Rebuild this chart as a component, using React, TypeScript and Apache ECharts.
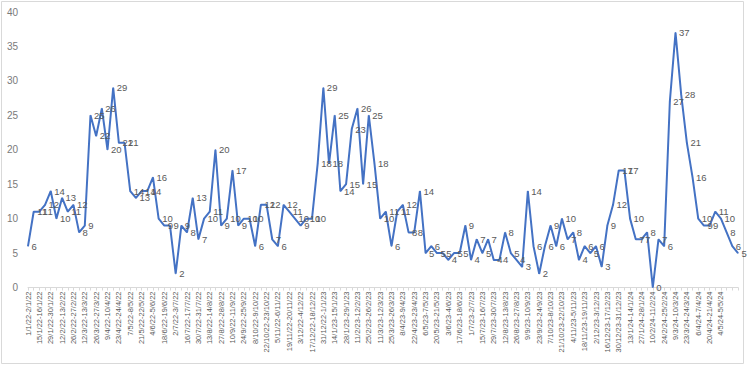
import React, { useEffect, useRef } from "react";
import * as echarts from "echarts";

const weekends: string[] = [
  "1/1/22-2/1/22","8/1/22-9/1/22","15/1/22-16/1/22","22/1/22-23/1/22","29/1/22-30/1/22",
  "5/2/22-6/2/22","12/2/22-13/2/22","19/2/22-20/2/22","26/2/22-27/2/22",
  "5/3/22-6/3/22","12/3/22-13/3/22","19/3/22-20/3/22","26/3/22-27/3/22",
  "2/4/22-3/4/22","9/4/22-10/4/22","16/4/22-17/4/22","23/4/22-24/4/22","30/4/22-1/5/22",
  "7/5/22-8/5/22","14/5/22-15/5/22","21/5/22-22/5/22","28/5/22-29/5/22",
  "4/6/22-5/6/22","11/6/22-12/6/22","18/6/22-19/6/22","25/6/22-26/6/22",
  "2/7/22-3/7/22","9/7/22-10/7/22","16/7/22-17/7/22","23/7/22-24/7/22","30/7/22-31/7/22",
  "6/8/22-7/8/22","13/8/22-14/8/22","20/8/22-21/8/22","27/8/22-28/8/22",
  "3/9/22-4/9/22","10/9/22-11/9/22","17/9/22-18/9/22","24/9/22-25/9/22",
  "1/10/22-2/10/22","8/10/22-9/10/22","15/10/22-16/10/22","22/10/22-23/10/22","29/10/22-30/10/22",
  "5/11/22-6/11/22","12/11/22-13/11/22","19/11/22-20/11/22","26/11/22-27/11/22",
  "3/12/22-4/12/22","10/12/22-11/12/22","17/12/22-18/12/22","24/12/22-25/12/22","31/12/22-1/1/23",
  "7/1/23-8/1/23","14/1/23-15/1/23","21/1/23-22/1/23","28/1/23-29/1/23",
  "4/2/23-5/2/23","11/2/23-12/2/23","18/2/23-19/2/23","25/2/23-26/2/23",
  "4/3/23-5/3/23","11/3/23-12/3/23","18/3/23-19/3/23","25/3/23-26/3/23",
  "1/4/23-2/4/23","8/4/23-9/4/23","15/4/23-16/4/23","22/4/23-23/4/23","29/4/23-30/4/23",
  "6/5/23-7/5/23","13/5/23-14/5/23","20/5/23-21/5/23","27/5/23-28/5/23",
  "3/6/23-4/6/23","10/6/23-11/6/23","17/6/23-18/6/23","24/6/23-25/6/23",
  "1/7/23-2/7/23","8/7/23-9/7/23","15/7/23-16/7/23","22/7/23-23/7/23","29/7/23-30/7/23",
  "5/8/23-6/8/23","12/8/23-13/8/23","19/8/23-20/8/23","26/8/23-27/8/23",
  "2/9/23-3/9/23","9/9/23-10/9/23","16/9/23-17/9/23","23/9/23-24/9/23","30/9/23-1/10/23",
  "7/10/23-8/10/23","14/10/23-15/10/23","21/10/23-22/10/23","28/10/23-29/10/23",
  "4/11/23-5/11/23","11/11/23-12/11/23","18/11/23-19/11/23","25/11/23-26/11/23",
  "2/12/23-3/12/23","9/12/23-10/12/23","16/12/23-17/12/23","23/12/23-24/12/23","30/12/23-31/12/23",
  "6/1/24-7/1/24","13/1/24-14/1/24","20/1/24-21/1/24","27/1/24-28/1/24",
  "3/2/24-4/2/24","10/2/24-11/2/24","17/2/24-18/2/24","24/2/24-25/2/24",
  "2/3/24-3/3/24","9/3/24-10/3/24","16/3/24-17/3/24","23/3/24-24/3/24","30/3/24-31/3/24",
  "6/4/24-7/4/24","13/4/24-14/4/24","20/4/24-21/4/24","27/4/24-28/4/24",
  "4/5/24-5/5/24",
];
const unlabeledTail: string[] = ["", "", ""];
const categories: string[] = [...weekends, ...unlabeledTail];

const counts: number[] = [
  6, 11, 11, 12, 14, 10, 13, 11, 12, 8,
  9, 25, 22, 26, 20, 29, 21, 21, 14, 13,
  14, 14, 16, 10, 9, 9, 2, 9, 8, 13,
  7, 10, 11, 20, 9, 10, 17, 9, 10, 10,
  6, 12, 12, 7, 6, 12, 11, 10, 9, 10,
  10, 18, 29, 18, 25, 14, 15, 23, 26, 15,
  25, 18, 10, 11, 6, 11, 12, 8, 8, 14,
  5, 6, 5, 5, 4, 5, 5, 9, 4, 7,
  5, 7, 4, 4, 8, 5, 4, 3, 14, 6,
  2, 6, 9, 6, 10, 7, 8, 4, 6, 5,
  6, 3, 9, 12, 17, 17, 10, 7, 7, 8,
  0, 7, 6, 27, 37, 28, 21, 16, 10, 9,
  9, 11, 10, 8, 6, 5,
];

const yTicks = { min: 0, max: 40, step: 5 };

export default function App() {
  const ref = useRef<HTMLDivElement>(null);
  useEffect(() => {
    if (!ref.current) return;
    const chart = echarts.init(ref.current, null, { renderer: "svg" });
    chart.setOption({
      animation: false,
      backgroundColor: "#ffffff",
      textStyle: { fontFamily: "Liberation Sans" },
      graphic: [
        {
          type: "rect",
          silent: true,
          shape: { x: 1.5, y: 1.5, width: 742, height: 362 },
          style: { fill: "none", stroke: "#d9d9d9", lineWidth: 1 },
        },
      ],
      grid: { left: 28, right: 12, top: 12, bottom: 79.5 },
      xAxis: {
        type: "category",
        data: categories,
        boundaryGap: false,
        axisLine: { show: true, lineStyle: { color: "#d9d9d9" } },
        axisTick: { show: true, interval: 0, length: 3, lineStyle: { color: "#d9d9d9" } },
        axisLabel: {
          interval: 1,
          rotate: 90,
          fontSize: 7.5,
          color: "#595959",
          margin: 4,
          fontFamily: "Liberation Sans",
        },
        splitLine: { show: false },
      },
      yAxis: {
        type: "value",
        min: yTicks.min,
        max: yTicks.max,
        interval: yTicks.step,
        axisLine: { show: false },
        axisTick: { show: false },
        splitLine: { show: false },
        axisLabel: { fontSize: 10, color: "#7a7a7a", margin: 10, fontFamily: "Liberation Sans" },
      },
      series: [
        {
          type: "line",
          data: counts,
          symbol: "circle",
          symbolSize: 1,
          showSymbol: true,
          itemStyle: { color: "#4472c4" },
          lineStyle: { color: "#4472c4", width: 2 },
          label: {
            show: true,
            position: "right",
            distance: 3,
            fontSize: 9.5,
            color: "#595959",
            fontFamily: "Liberation Sans",
          },
        },
      ],
    });
    return () => chart.dispose();
  }, []);
  return (
    <div
      ref={ref}
      style={{ position: "absolute", left: 0, top: 0, width: 750, height: 367, background: "#fff" }}
    />
  );
}
